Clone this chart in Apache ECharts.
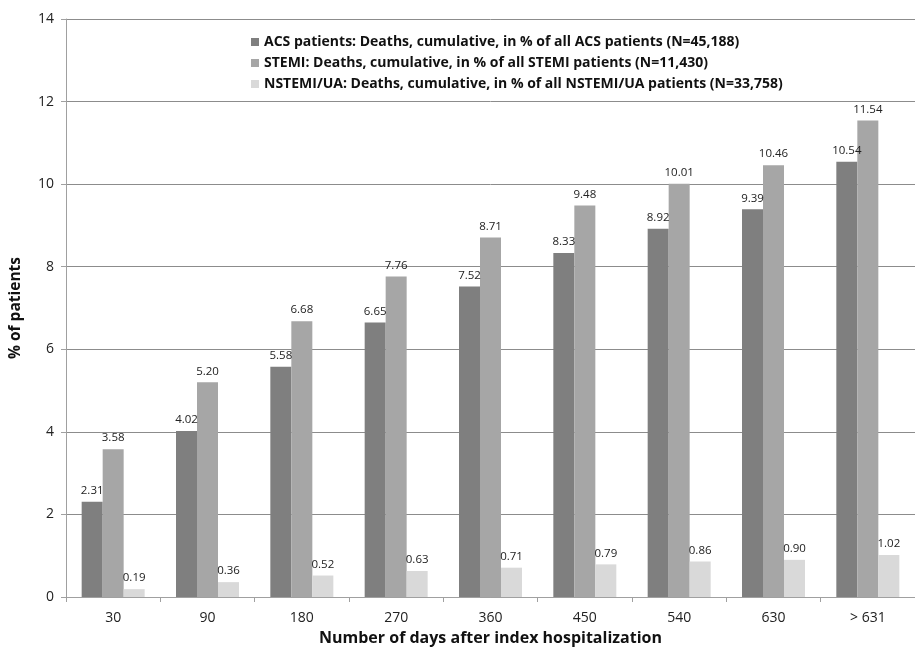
<!DOCTYPE html>
<html><head><meta charset="utf-8">
<script src="https://cdn.jsdelivr.net/npm/echarts@6/dist/echarts.min.js"></script>
<style>html,body{margin:0;padding:0;background:#fff}#c{width:915px;height:653px}</style>
</head><body><div id="c"></div>
<script>
const categories = ['30','90','180','270','360','450','540','630','> 631'];
const acs = [2.31,4.02,5.58,6.65,7.52,8.33,8.92,9.39,10.54];
const stemi = [3.58,5.20,6.68,7.76,8.71,9.48,10.01,10.46,11.54];
const nstemi = [0.19,0.36,0.52,0.63,0.71,0.79,0.86,0.90,1.02];
const seriesNames = [
 'ACS patients: Deaths, cumulative, in % of all ACS patients (N=45,188)',
 'STEMI: Deaths, cumulative, in % of all STEMI patients (N=11,430)',
 'NSTEMI/UA: Deaths, cumulative, in % of all NSTEMI/UA patients (N=33,758)'
];
const yTicks = {min:0,max:14,interval:2};
const F = '"Open Sans", sans-serif';
const colors = ['#7f7f7f','#a6a6a6','#d9d9d9'];
const chart = echarts.init(document.getElementById('c'));
function mk(i,data){
 return {name:seriesNames[i],type:'bar',data:data,barWidth:21,barGap:'0%',
  itemStyle:{color:colors[i]},
  label:{show:true,position:'top',distance:5,formatter:p=>p.value.toFixed(2),fontFamily:F,fontSize:11.5,color:'#222'}};
}
chart.setOption({
 animation:false,
 color:colors,
 grid:{left:66,top:19,width:858,height:578},
 legend:{orient:'vertical',left:246,top:30,itemWidth:8,itemHeight:8,itemGap:7,icon:'rect',
  textStyle:{fontFamily:F,fontWeight:'bold',fontSize:14,color:'#111'}},
 xAxis:{type:'category',data:categories,
  name:'Number of days after index hospitalization',nameLocation:'middle',nameGap:33,
  nameTextStyle:{fontFamily:F,fontWeight:'bold',fontSize:16,color:'#111'},
  axisLine:{lineStyle:{color:'#a0a0a0'}},axisTick:{show:true,length:5,lineStyle:{color:'#a0a0a0'}},
  axisLabel:{fontFamily:F,fontSize:14,color:'#222',margin:14}},
 yAxis:{type:'value',min:yTicks.min,max:yTicks.max,interval:yTicks.interval,
  name:'% of patients',nameLocation:'middle',nameGap:42,
  nameTextStyle:{fontFamily:F,fontWeight:'bold',fontSize:15.5,color:'#111'},
  axisLine:{show:true,lineStyle:{color:'#a0a0a0'}},axisTick:{show:true,length:5,lineStyle:{color:'#a0a0a0'}},
  axisLabel:{fontFamily:F,fontSize:14,color:'#222',margin:12},
  splitLine:{lineStyle:{color:'#8c8c8c'}}},
 series:[mk(0,acs),mk(1,stemi),mk(2,nstemi)]
});
</script></body></html>
